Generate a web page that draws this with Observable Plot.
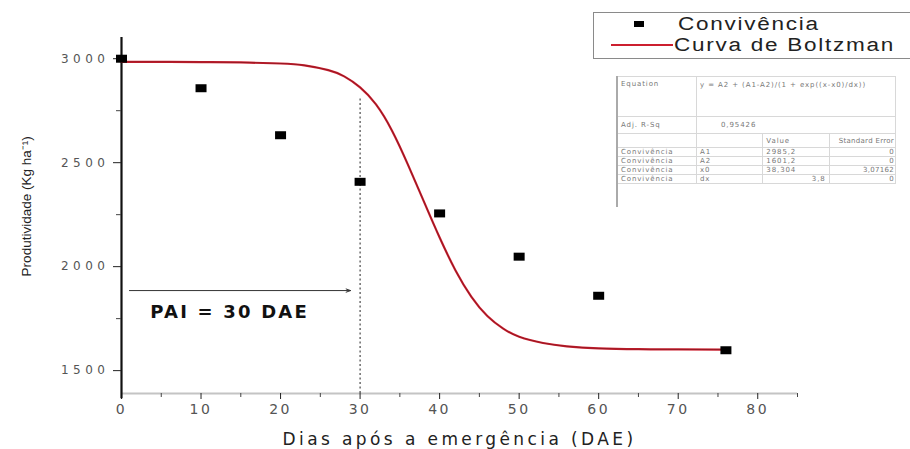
<!DOCTYPE html>
<html>
<head>
<meta charset="utf-8">
<script src="https://cdn.jsdelivr.net/npm/d3@7"></script>
<script src="https://cdn.jsdelivr.net/npm/@observablehq/plot@0.6"></script>
<style>
  html, body { margin: 0; padding: 0; background: #fff; overflow: hidden; width: 910px; height: 449px; }
  #wrap { position: relative; width: 910px; height: 449px; font-family: "DejaVu Sans", sans-serif; overflow: hidden; }
  #legend { position: absolute; left: 593px; top: 12px; width: 340px; height: 45px; border: 1px solid #8a8a8a; background: #fff; }
  .lg { position: absolute; font-family: "Liberation Sans", Arial, sans-serif; font-size: 18px; color: #222; letter-spacing: 1.4px; transform: scaleX(1.25); transform-origin: left center; white-space: nowrap; line-height: 20px; }
  #stats { position: absolute; left: 617px; top: 76px; border-collapse: collapse; font-size: 7px; color: #777; background: #fff; letter-spacing: 0.9px; font-family: "DejaVu Sans", sans-serif; table-layout: fixed; }
  #stats td { border: 1px solid #d8d8d8; padding: 0 3px; white-space: nowrap; overflow: hidden; line-height: 8px; }
  #statsBar { position: absolute; left: 616px; top: 76px; width: 2px; height: 131px; background: #aaa; }
</style>
</head>
<body>
<div id="wrap"></div>
<script>
// ---- data ----
const dias = [0, 10, 20, 30, 40, 50, 60, 76];
const produtividade = [3000, 2858, 2632, 2408, 2256, 2048, 1860, 1598];

// Boltzmann fitted curve
const curvaX = [0, 5, 10, 15, 20, 23, 26, 28, 30, 32, 34, 36, 38, 40, 42, 44, 46, 48, 50, 53, 56, 60, 65, 70, 76];
const curvaY = [2985, 2985, 2984, 2982, 2977, 2968, 2945, 2915, 2862, 2780, 2655, 2492, 2315, 2140, 1982, 1855, 1763, 1702, 1663, 1633, 1617, 1607, 1603, 1602, 1601];

const xTicks = [0, 10, 20, 30, 40, 50, 60, 70, 80];
const xMinor = [5, 15, 25, 35, 45, 55, 65, 75, 85];
const yTicks = [1500, 2000, 2500, 3000];
const yMinor = [1750, 2250, 2750];

const pai = 30;              // PAI = 30 DAE
const arrowFrom = 1, arrowY = 1885, labelX = 13.6, labelY = 1780, ruleTop = 2815;

const seriesNames = ["Convivência", "Curva de Boltzman"];
const statsRows = [
  ["Equation", "y = A2 + (A1-A2)/(1 + exp((x-x0)/dx))", "", ""],
  ["Adj. R-Sq", "0,95426", "", ""],
  ["", "", "Value", "Standard Error"],
  ["Convivência", "A1", "2985,2", "0"],
  ["Convivência", "A2", "1601,2", "0"],
  ["Convivência", "x0", "38,304", "3,07162"],
  ["Convivência", "dx", "3,8", "0"]
];

const pts = dias.map((d, i) => ({x: d, y: produtividade[i]}));
const curva = curvaX.map((d, i) => ({x: d, y: curvaY[i]}));

const rectSymbol = { draw(ctx) { ctx.rect(-5.5, -4, 11, 8); } };

const chart = Plot.plot({
  width: 910,
  height: 449,
  marginLeft: 121,
  marginRight: 113,
  marginTop: 37,
  marginBottom: 56,
  style: { fontFamily: "DejaVu Sans, sans-serif", background: "transparent" },
  x: { domain: [0, 85] },
  y: { domain: [1390, 3102] },
  marks: [
    // x axis
    Plot.ruleY([1390], { stroke: "#c4c4c4", strokeWidth: 2 }),
    Plot.axisX({ ticks: xTicks, tickSize: 6, tickPadding: 5, fontSize: 14, fill: "#555", stroke: "#222", label: null, tickFormat: d => String(d) }),
    Plot.axisX({ ticks: xMinor, tickSize: 4, tickFormat: () => "", stroke: "#444", label: null }),
    Plot.text(["Dias após a emergência (DAE)"], { frameAnchor: "bottom", dy: 51, fontSize: 17, fill: "#222", text: d => d }),
    // y axis
    Plot.ruleX([0], { stroke: "#111", strokeWidth: 2.2, y1: 1365, y2: 3102 }),
    Plot.axisY({ ticks: yTicks, tickSize: 8, tickPadding: 4, fontSize: 12, fill: "#555", stroke: "#222", label: null, tickFormat: d => String(d) }),
    Plot.axisY({ ticks: yMinor, tickSize: 5, tickFormat: () => "", stroke: "#444", label: null }),
    Plot.text(["Produtividade (Kg ha⁻¹)"], { x: 0, y: 2290, textAnchor: "middle", rotate: -90, dx: -95, fontSize: 13.5, fill: "#222", fontFamily: "Liberation Sans Narrow, Liberation Sans, sans-serif", text: d => d }),
    // PAI annotation
    Plot.ruleX([pai], { y1: 1390, y2: ruleTop, stroke: "#222", strokeWidth: 1, strokeDasharray: "2,2.5" }),
    Plot.arrow([{}], { x1: arrowFrom, x2: pai - 1.2, y1: arrowY, y2: arrowY, stroke: "#333", strokeWidth: 1, headLength: 7, headAngle: 40 }),
    Plot.text(["PAI = 30 DAE"], { x: labelX, y: labelY, text: d => d, fontSize: 18, fontWeight: "bold", fill: "#111" }),
    // curve and points
    Plot.line(curva, { x: "x", y: "y", curve: "natural", stroke: "#cc1f2f", strokeWidth: 2.2 }),
    Plot.line(curva, { x: "x", y: "y", curve: "natural", stroke: "#5a1016", strokeWidth: 0.8, strokeOpacity: 0.6 }),
    Plot.dot(pts, { x: "x", y: "y", symbol: rectSymbol, fill: "#000", stroke: "none" })
  ]
});

// text spacing to mimic the stretched look of the original
const svg = d3.select(chart);
svg.selectAll('[aria-label="x-axis tick label"] text').style("letter-spacing", "2.5px");
svg.selectAll('[aria-label="y-axis tick label"] text').style("letter-spacing", "4.5px");
svg.selectAll("text").filter(function () { return this.textContent === "Dias após a emergência (DAE)"; }).style("letter-spacing", "3.4px");
svg.selectAll("text").filter(function () { return this.textContent === "PAI = 30 DAE"; }).style("letter-spacing", "2.2px");

const wrap = document.getElementById("wrap");
wrap.appendChild(chart);

// legend
const legend = document.createElement("div");
legend.id = "legend";
legend.innerHTML =
  `<div style="position:absolute;left:40px;top:8px;width:10px;height:6px;background:#000"></div>` +
  `<div class="lg" style="left:84px;top:1px">${seriesNames[0]}</div>` +
  `<div style="position:absolute;left:17px;top:31px;width:62px;height:2px;background:#cc1f2f"></div>` +
  `<div class="lg" style="left:80px;top:22px">${seriesNames[1]}</div>`;
wrap.appendChild(legend);

// stats table
const colW = [72, 81, 50, 76];
const table = document.createElement("table");
table.id = "stats";
table.style.width = d3.sum(colW) + "px";
statsRows.forEach((r, i) => {
  const tr = document.createElement("tr");
  if (i === 0) {
    tr.innerHTML = `<td style="width:${colW[0]}px;height:36px;vertical-align:top;padding-top:3px">${r[0]}</td><td colspan="3" style="vertical-align:top;padding-top:3px;white-space:normal;word-break:break-all;line-height:10px">${r[1]}</td>`;
  } else if (i === 1) {
    tr.innerHTML = `<td style="height:16px">${r[0]}</td><td colspan="3" style="padding-left:24px">${r[1]}</td>`;
  } else {
    tr.innerHTML = r.map((c, j) => `<td style="width:${colW[j]}px;${j === 3 ? "text-align:right;padding:0 1px;letter-spacing:0.3px;" : ""}${j === 2 && i === 6 ? "text-align:right;" : ""}height:${i === 2 ? 13 : 7}px">${c}</td>`).join("");
  }
  table.appendChild(tr);
});
wrap.appendChild(table);
const bar = document.createElement("div");
bar.id = "statsBar";
wrap.appendChild(bar);
</script>
</body>
</html>
